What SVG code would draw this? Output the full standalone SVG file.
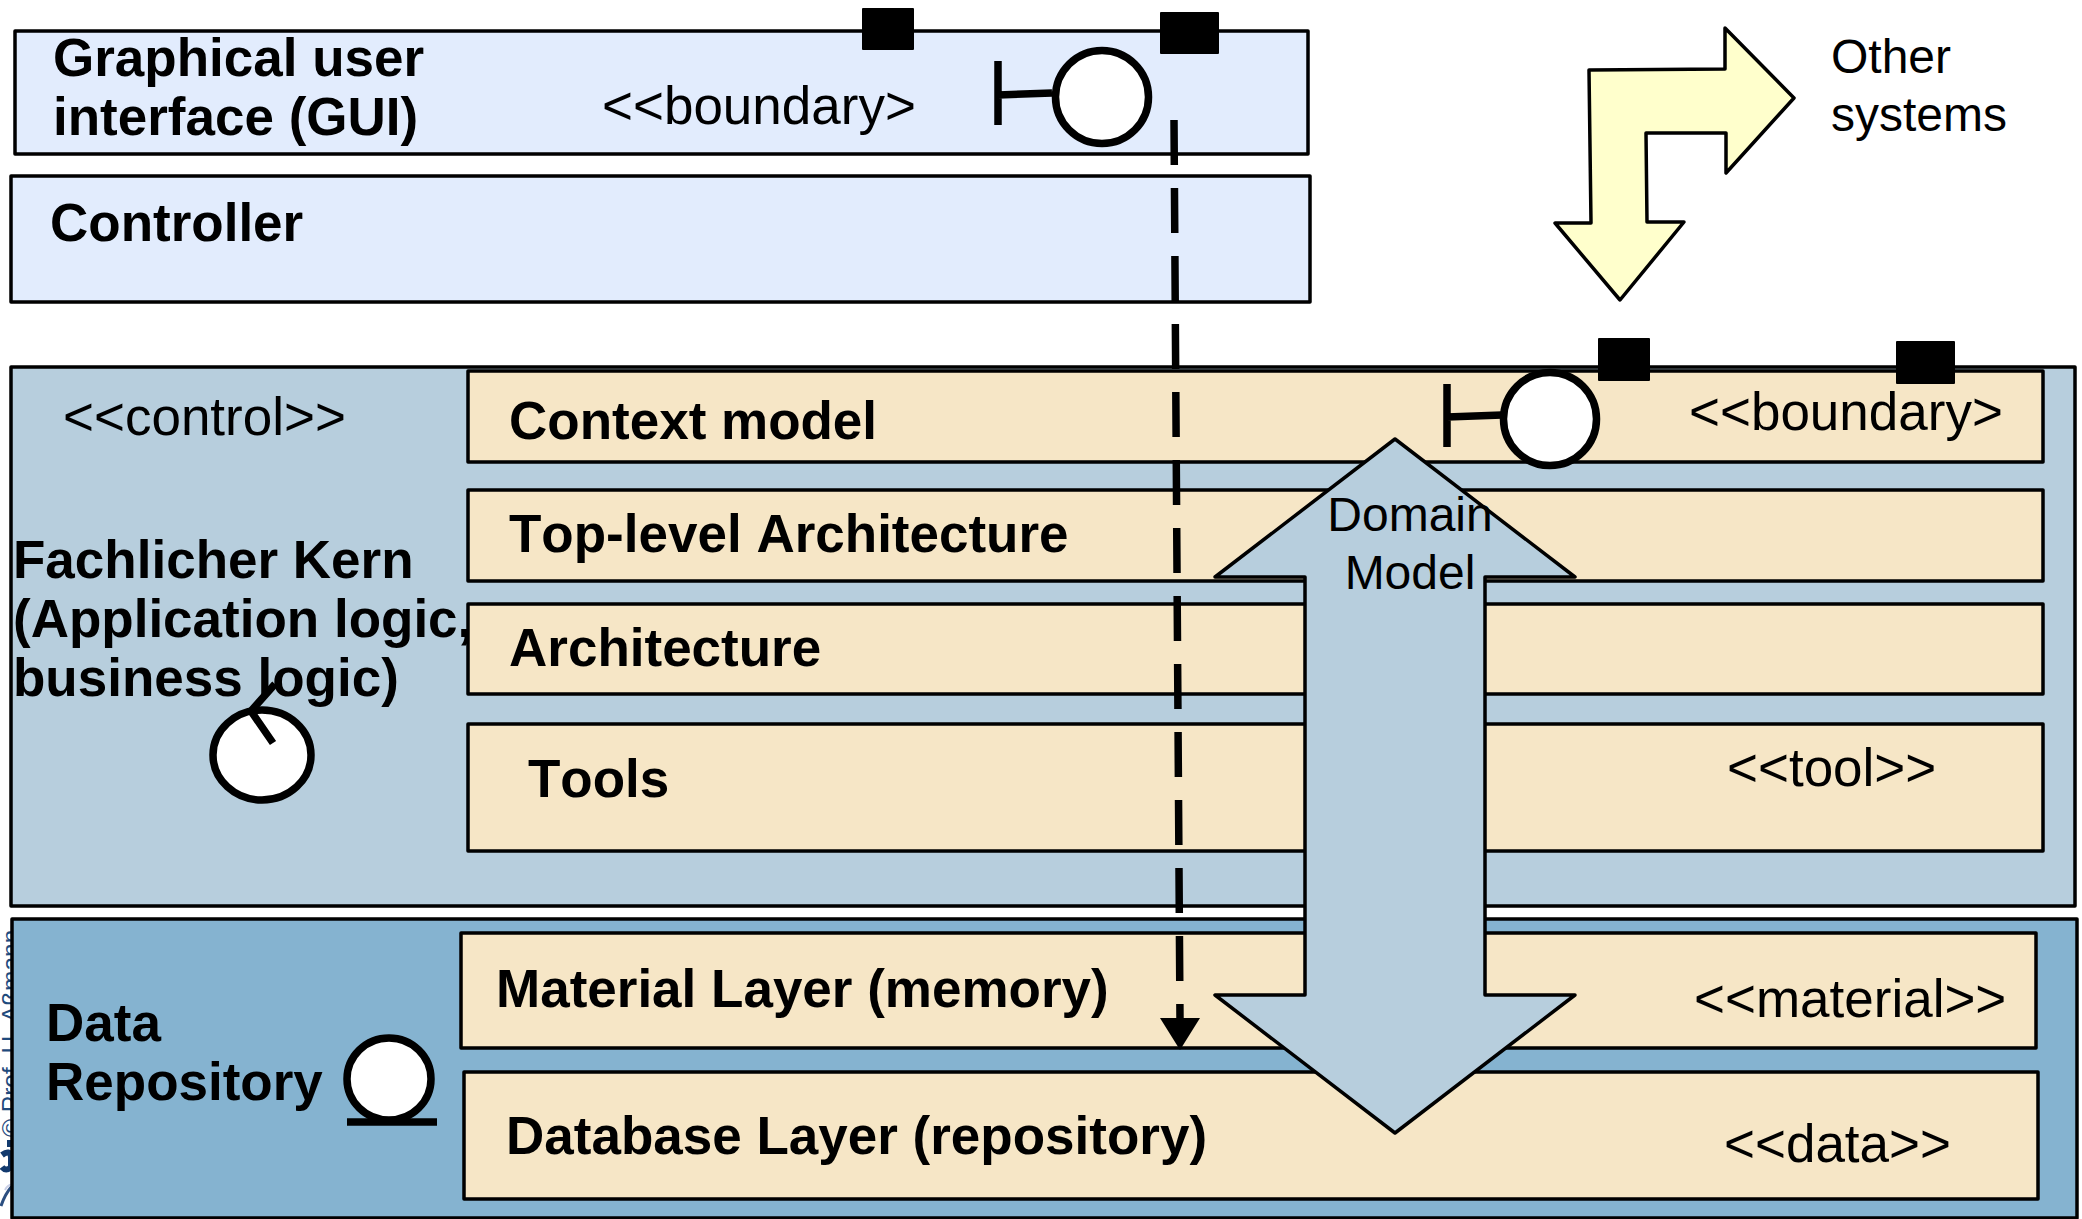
<svg xmlns="http://www.w3.org/2000/svg" width="2082" height="1219" viewBox="0 0 2082 1219">
<style>
text{font-family:"Liberation Sans",Arial,sans-serif;fill:#000;font-kerning:none}
.b{font-weight:700;font-size:53px}
.n{font-size:53px}
.s{font-size:48px}
.box{stroke:#000;stroke-width:3.500;stroke-linejoin:round}
.gui{fill:#e2ecfd}.kern{fill:#b7cedd}.data{fill:#85b3d0}.lay{fill:#f6e6c6}
.sq{fill:#000;stroke:#000;stroke-width:2;stroke-linejoin:round}
.ic{fill:#fff;stroke:#000;stroke-width:7.500}
.ln{fill:none;stroke:#000;stroke-width:7.500}
.ar{stroke:#000;stroke-width:3.500;stroke-linejoin:round}
</style>
<rect width="2082" height="1219" fill="#fff"/>
<g id="watermark">
<text transform="translate(19,1137) rotate(-90)" style="font-size:24.500px;fill:#1f4a7c">© Prof. U. Aßmann</text>
<path d="M7 1143.500h6" fill="none" stroke="#123a6e" stroke-width="7"/>
<path d="M2 1155q8-6 9 2v10q-5 5-9 0" fill="none" stroke="#123a6e" stroke-width="6"/>
<path d="M1 1206q4-12 11-20" fill="none" stroke="#2c4f80" stroke-width="3"/>
<path d="M5 1190q3-6 8-5" fill="none" stroke="#c9cfe6" stroke-width="2"/>
</g>
<g id="gui"><rect class="box gui" x="15" y="31" width="1293" height="123"/>
<text class="b" x="53" y="76">Graphical user</text><text class="b" x="53" y="135">interface (GUI)</text>
<text class="n" x="602" y="124">&lt;&lt;boundary&gt;</text></g>
<g id="controller"><rect class="box gui" x="11" y="176" width="1299" height="126"/>
<text class="b" x="50" y="241">Controller</text></g>
<g id="kern"><rect class="box kern" x="11" y="367" width="2064" height="539"/>
<text class="n" x="63" y="435">&lt;&lt;control&gt;&gt;</text>
<text class="b" x="13" y="578">Fachlicher Kern</text><text class="b" x="13" y="637">(Application logic,</text><text class="b" x="13" y="696">business logic)</text></g>
<g id="context"><rect class="box lay" x="468" y="371" width="1575" height="91"/>
<text class="b" x="509" y="439">Context model</text><text class="n" x="1689" y="430">&lt;&lt;boundary&gt;</text></g>
<g id="toplevel"><rect class="box lay" x="468" y="490" width="1575" height="91"/>
<text class="b" x="509" y="552">Top-level Architecture</text></g>
<g id="architecture"><rect class="box lay" x="468" y="604" width="1575" height="90"/>
<text class="b" x="509" y="666">Architecture</text></g>
<g id="tools"><rect class="box lay" x="468" y="724" width="1575" height="127"/>
<text class="b" x="528" y="797">Tools</text><text class="n" x="1727" y="786">&lt;&lt;tool&gt;&gt;</text></g>
<g id="repository"><rect class="box data" x="12" y="919" width="2065" height="299"/>
<text class="b" x="46" y="1041">Data</text><text class="b" x="46" y="1100">Repository</text></g>
<g id="material"><rect class="box lay" x="461" y="933" width="1575" height="115"/>
<text class="b" x="496" y="1007">Material Layer (memory)</text><text class="n" x="1694" y="1017">&lt;&lt;material&gt;&gt;</text></g>
<g id="database"><rect class="box lay" x="464" y="1072" width="1574" height="127"/>
<text class="b" x="506" y="1154">Database Layer (repository)</text><text class="n" x="1724" y="1162">&lt;&lt;data&gt;&gt;</text></g>
<g id="ports">
<rect class="sq" x="863" y="9" width="50" height="40"/><rect class="sq" x="1161" y="13" width="57" height="40"/>
<rect class="sq" x="1599" y="339" width="50" height="41"/><rect class="sq" x="1897" y="342" width="57" height="41"/>
</g>
<g id="icon-boundary-gui"><path class="ln" d="M998 61V125M998 95L1052 93"/><circle class="ic" cx="1102" cy="97" r="46.500"/></g>
<g id="icon-boundary-domain"><path class="ln" d="M1447 384V447M1447 417L1502 415"/><circle class="ic" cx="1550" cy="419" r="46.500"/></g>
<g id="icon-control"><ellipse class="ic" cx="262" cy="755" rx="49" ry="45"/><path class="ln" d="M273 743L251 711L275 684"/></g>
<g id="icon-entity"><ellipse class="ic" cx="389" cy="1079" rx="42" ry="41"/><path class="ln" d="M347 1122H437"/></g>
<g id="connectors">
<path d="M1174 120L1180 1020" fill="none" stroke="#000" stroke-width="7.500" stroke-dasharray="45 23"/>
<path d="M1160 1018H1200L1180 1050Z" fill="#000"/>
</g>
<g id="other-systems"><path class="ar" fill="#ffffcc" d="M1725 28L1794 98L1726 173V133H1646L1647 222H1684L1620 300L1555 223H1591L1589 70L1725 69Z"/>
<text class="s" x="1831" y="73">Other</text><text class="s" x="1831" y="131">systems</text></g>
<g id="domain-model"><path class="ar kern" d="M1395 439L1575 577H1485V995H1575L1395 1133L1215 995H1305V577H1215Z"/>
<text class="s" text-anchor="middle" x="1410" y="531">Domain</text><text class="s" text-anchor="middle" x="1410" y="589">Model</text></g>
</svg>
